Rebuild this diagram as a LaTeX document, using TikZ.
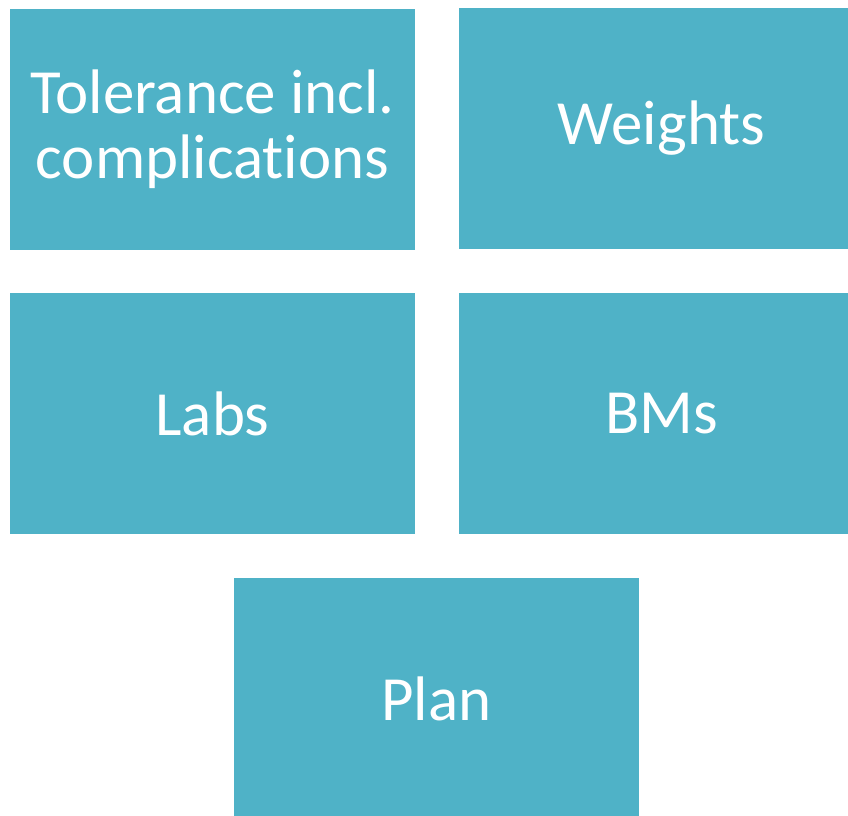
\documentclass[tikz,border=0pt]{standalone}
\usepackage{fontspec}
\setmainfont{Carlito}[Ligatures=NoCommon]
\usepackage{tikz}

\definecolor{tealbox}{RGB}{79,178,199}

\tikzset{
  box/.style={fill=tealbox, draw=none, inner sep=0pt,
    minimum width=405*0.02cm, minimum height=241*0.02cm,
    text=white, align=center, font=\fontsize{35.8}{37}\selectfont},
}

\begin{document}
\begin{tikzpicture}[x=0.02cm,y=-0.02cm]
\useasboundingbox (0,0) rectangle (848,815);
\node[box] (tol) at (212.5,129) {Tolerance incl.\\complications};
\node[box] (wts) at (661.5,128.5) {Weights};
\node[box] (labs) at (212.5,413.5) {Labs};
\node[box] (bms) at (661.5,413.5) {BMs};
\node[box] (plan) at (436.5,698.5) {Plan};
\end{tikzpicture}
\end{document}
